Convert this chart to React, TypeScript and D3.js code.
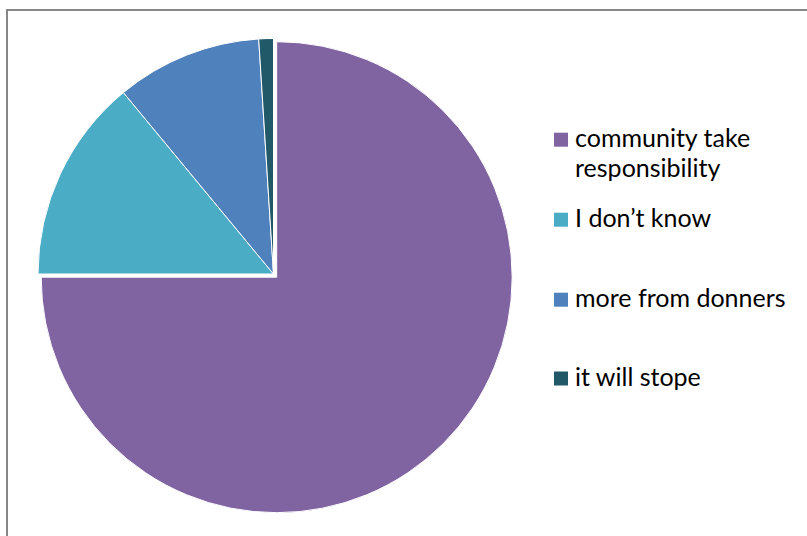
import React from "react";
import * as d3 from "d3";

const categories = ["community take responsibility", "I don\u2019t know", "more from donners", "it will stope"];
const values = [75, 14, 10, 1];
const colors = ["#8064A2", "#4BACC6", "#4F81BD", "#215968"];
const legendLines = [["community take", "responsibility"], ["I don\u2019t know"], ["more from donners"], ["it will stope"]];

const W = 807;
const H = 536;
const cx = 273.5;
const cy = 274;
const R = 235.5;
const explode = [4.5, 0, 0, 0];

export default function App() {
  const pie = d3.pie<number>().sort(null).value((d) => d)(values);
  const arc = d3.arc<d3.PieArcDatum<number>>().innerRadius(0).outerRadius(R);
  const legendY = [146.7, 226.7, 306.7, 385.5];
  return (
    <svg width={W} height={H} style={{ position: "absolute", left: 0, top: 0, background: "#fff" }}>
      <rect x={7} y={10} width={W + 20} height={H + 20} fill="#fff" stroke="#878787" strokeWidth={2} />
      <g transform={`translate(${cx},${cy})`}>
        {pie.map((p, i) => {
          const mid = (p.startAngle + p.endAngle) / 2;
          const dx = Math.sin(mid) * explode[i];
          const dy = -Math.cos(mid) * explode[i];
          return (
            <path
              key={i}
              d={arc(p) || ""}
              transform={`translate(${dx},${dy})`}
              fill={colors[i]}
              stroke="#fff"
              strokeWidth={1}
            />
          );
        })}
      </g>
      <g fontFamily="Lato, 'Open Sans', sans-serif" fontSize={25} fill="#000">
        {categories.map((c, i) => (
          <g key={c}>
            <rect x={554} y={legendY[i] - 14} width={14} height={14} fill={colors[i]} />
            {legendLines[i].map((line, j) => (
              <text key={j} x={575} y={legendY[i] + j * 30}>
                {line}
              </text>
            ))}
          </g>
        ))}
      </g>
    </svg>
  );
}
